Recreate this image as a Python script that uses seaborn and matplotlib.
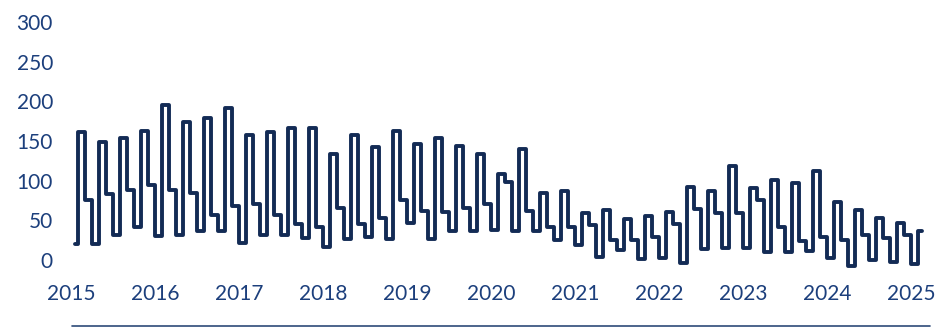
import matplotlib
matplotlib.use("Agg")
import matplotlib.pyplot as plt
from matplotlib.lines import Line2D
import numpy as np
import pandas as pd
import seaborn as sns

# Monthly values (Jan..Dec)
v2015 = [20, 161, 76, 20, 149, 83, 32, 154, 88, 41, 163, 95]
v2016 = [30, 195, 88, 31, 174, 84, 36, 179, 57, 36, 192, 68]
v2017 = [21, 157, 70, 31, 161, 57, 32, 166, 45, 28, 166, 42]
v2018 = [17, 133, 66, 26, 158, 46, 29, 142, 53, 26, 163, 76]
v2019 = [47, 146, 62, 26, 154, 60, 37, 144, 65, 36, 133, 70]
v2020 = [38, 108, 98, 37, 140, 62, 36, 85, 42, 25, 87, 42]
v2021 = [19, 59, 44, 4, 63, 25, 13, 52, 25, 1, 56, 29]
v2022 = [2, 60, 45, -4, 92, 64, 14, 87, 59, 15, 118, 59]
v2023 = [15, 91, 76, 10, 101, 42, 10, 97, 24, 11, 112, 29]
v2024 = [3, 73, 25, -7, 63, 31, 0, 53, 28, -2, 47, 32]
v2025 = [-5, 36]

years = [2015, 2016, 2017, 2018, 2019, 2020, 2021, 2022, 2023, 2024, 2025]
series = [v2015, v2016, v2017, v2018, v2019, v2020, v2021, v2022, v2023, v2024, v2025]
year_ticks = list(range(2015, 2026))
y_ticks = [0, 50, 100, 150, 200, 250, 300]

rows = []
for yr, vals in zip(years, series):
    for m, v in enumerate(vals):
        rows.append({"t": yr + (m + 0.5) / 12.0, "value": v})
df = pd.DataFrame(rows)

sns.set_style("white")
plt.rcParams["font.family"] = ["Lato", "DejaVu Sans"]

LINE = "#132b55"
TXT = "#1c3f7c"

W, H = 938, 329
fig = plt.figure(figsize=(W / 100, H / 100), dpi=100)

x0, x1 = 2014.95, 2025.25
y0, y1 = -15, 300
px_year = 84.0
left_px = 71 - (2015 - x0) * px_year
right_px = 71 + (x1 - 2015) * px_year
top_px = 22
bot_px = 260 + 15 * (238.0 / 300.0)
ax = fig.add_axes([left_px / W, 1 - bot_px / H, (right_px - left_px) / W, (bot_px - top_px) / H])

sns.lineplot(data=df, x="t", y="value", ax=ax, color=LINE, linewidth=2.8,
             drawstyle="steps-mid", estimator=None, sort=True,
             solid_joinstyle="round", solid_capstyle="round")

ax.set_xlim(x0, x1)
ax.set_ylim(y0, y1)
ax.set_xticks(year_ticks)
ax.set_xticklabels([str(y) for y in year_ticks])
ax.set_yticks(y_ticks)
ax.set_yticklabels([str(v) for v in y_ticks])
ax.tick_params(axis="both", length=0, labelsize=15, colors=TXT)
ax.tick_params(axis="x", pad=9)
ax.tick_params(axis="y", pad=10)
ax.set_xlabel("")
ax.set_ylabel("")
for s in ax.spines.values():
    s.set_visible(False)
ax.grid(False)
ax.patch.set_alpha(0)

fig.add_artist(Line2D([72 / W, 930 / W], [1 - 326 / H, 1 - 326 / H],
                      transform=fig.transFigure, color="#2e4a78", linewidth=1.2))

fig.savefig("out.png", dpi=100)
